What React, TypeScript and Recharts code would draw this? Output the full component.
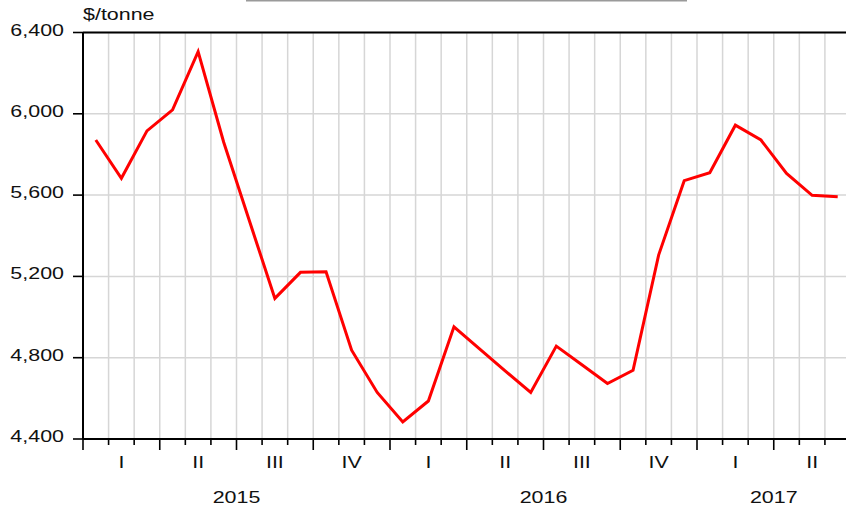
import React from 'react';
import { LineChart, Line, XAxis, YAxis, CartesianGrid, ReferenceLine } from 'recharts';

const months = [
  '2015-01', '2015-02', '2015-03', '2015-04', '2015-05', '2015-06',
  '2015-07', '2015-08', '2015-09', '2015-10', '2015-11', '2015-12',
  '2016-01', '2016-02', '2016-03', '2016-04', '2016-05', '2016-06',
  '2016-07', '2016-08', '2016-09', '2016-10', '2016-11', '2016-12',
  '2017-01', '2017-02', '2017-03', '2017-04', '2017-05', '2017-06',
];
const prices = [
  5871, 5683, 5916, 6019, 6306, 5860,
  5475, 5092, 5220, 5223, 4837, 4629,
  4484, 4587, 4952, 4843, 4735, 4629,
  4857, 4765, 4673, 4738, 5305, 5671,
  5710, 5944, 5871, 5707, 5599, 5592,
];
const yTicks = [4400, 4800, 5200, 5600, 6000, 6400];
const quarterLabels = ['I', 'II', 'III', 'IV', 'I', 'II', 'III', 'IV', 'I', 'II'];
const years = ['2015', '2016', '2017'];
const monthsPerYear = [12, 12, 6];
const unitLabel = '$/tonne';

const data = months.map((m, i) => ({ month: m, t: i + 0.5, price: prices[i] }));
const monthTicks = Array.from({ length: months.length + 1 }, (_, i) => i);
const quarterTicks = quarterLabels.map((_, i) => i * 3 + 1.5);
const yearTicks: number[] = [];
{
  let start = 0;
  monthsPerYear.forEach((n) => {
    yearTicks.push(start + n / 2);
    start += n;
  });
}
const labelTicks = [...quarterTicks, ...yearTicks];

const FONT = '"Liberation Sans", Arial, sans-serif';
const FS = 16.5;
const SX = 1.3;
const TXT = '#111';

const MonthTick = (props: any) => {
  const { x, y, payload } = props;
  const len = payload.value % 3 === 0 ? 11 : 6;
  return <line x1={x} x2={x} y1={y} y2={y + len} stroke="#000" strokeWidth={1.6} />;
};

const LabelTick = (props: any) => {
  const { x, y, payload } = props;
  const v = payload.value;
  const qi = quarterTicks.indexOf(v);
  if (qi >= 0) {
    return (
      <text transform={`translate(${x},${y + 17}) scale(${SX},1)`} textAnchor="middle"
        fontFamily={FONT} fontSize={FS} fill={TXT}>{quarterLabels[qi]}</text>
    );
  }
  const yi = yearTicks.indexOf(v);
  if (yi >= 0) {
    return (
      <text transform={`translate(${x},${y + 52}) scale(${SX},1)`} textAnchor="middle"
        fontFamily={FONT} fontSize={FS} fill={TXT}>{years[yi]}</text>
    );
  }
  return null;
};

const YTick = (props: any) => {
  const { x, y, payload } = props;
  return (
    <text transform={`translate(${x},${y + 3}) scale(${SX},1)`} textAnchor="end"
      fontFamily={FONT} fontSize={FS} fill={TXT}>{payload.value.toLocaleString('en-US')}</text>
  );
};

export default function App() {
  return (
    <div style={{ position: 'fixed', left: 0, top: 0, width: 846, height: 509, overflow: 'hidden', background: '#fff' }}>
      <LineChart width={860} height={509} data={data} margin={{ top: 32.5, right: 9.5, left: 0, bottom: 0 }}>
        <CartesianGrid xAxisId="a" stroke="#d6d6d6" strokeWidth={1.5} />
        <XAxis xAxisId="a" type="number" dataKey="t" domain={[0, months.length]} ticks={monthTicks}
          interval={0} tickSize={0} tickMargin={0} tickLine={false} tick={<MonthTick />}
          axisLine={{ stroke: '#000', strokeWidth: 2 }} height={12} allowDataOverflow />
        <XAxis xAxisId="b" type="number" dataKey="t" domain={[0, months.length]} ticks={labelTicks}
          interval={0} tickSize={0} tickMargin={0} tickLine={false} tick={<LabelTick />}
          axisLine={false} height={58} allowDataOverflow />
        <YAxis type="number" domain={[yTicks[0], yTicks[yTicks.length - 1]]} ticks={yTicks} interval={0}
          width={83} tickSize={10} tickMargin={9} tick={<YTick />}
          tickLine={{ stroke: '#000', strokeWidth: 1.6 }} axisLine={{ stroke: '#000', strokeWidth: 2 }} />
        <ReferenceLine xAxisId="a" y={yTicks[yTicks.length - 1]} stroke="#000" strokeWidth={2} />
        <Line xAxisId="a" type="linear" dataKey="price" stroke="#ff0000" strokeWidth={3}
          dot={false} activeDot={false} isAnimationActive={false} />
      </LineChart>
      <svg width={846} height={509} style={{ position: 'absolute', left: 0, top: 0, pointerEvents: 'none' }}>
        <line x1={246} x2={687} y1={0.8} y2={0.8} stroke="#9a9a9a" strokeWidth={1.6} />
        <text transform={`translate(83,20) scale(${SX},1)`} fontFamily={FONT} fontSize={FS} fill={TXT}>{unitLabel}</text>
      </svg>
    </div>
  );
}
